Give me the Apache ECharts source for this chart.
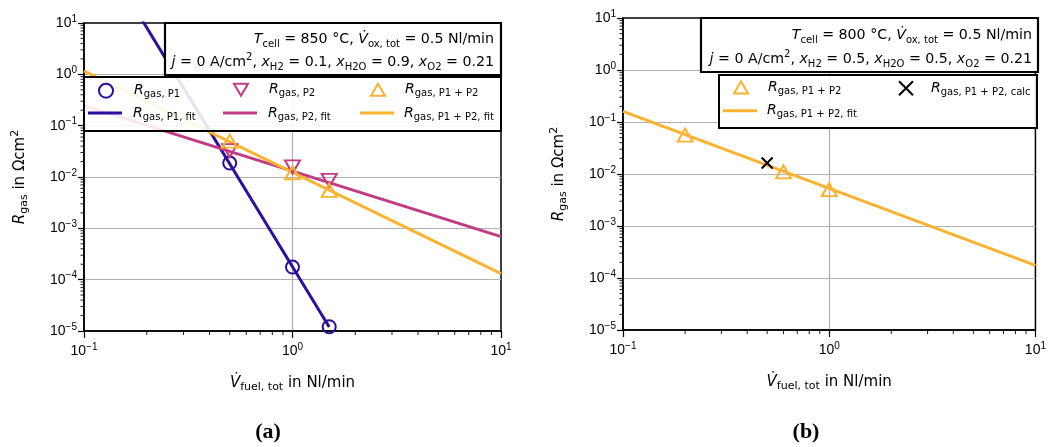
<!DOCTYPE html>
<html><head><meta charset="utf-8">
<script src="https://cdn.jsdelivr.net/npm/echarts@6/dist/echarts.min.js"></script>
<style>html,body{margin:0;padding:0;background:#fff}#c{width:1049px;height:447px}</style>
</head><body><div id="c"></div>
<script>
// ---- data ----
const xMin = 0.1, xMax = 10, yMin = 1e-5, yMax = 10;
const minorX = [0.2,0.3,0.4,0.5,0.6,0.7,0.8,0.9,2,3,4,5,6,7,8,9];
const minorY = [];
[1e-5,1e-4,1e-3,1e-2,1e-1,1].forEach(d => { for (let k = 2; k <= 9; k++) minorY.push(+(d*k).toPrecision(3)); });

// Plot (a)
const aX = [0.5, 1.0, 1.5];
const aP1 = [0.0187, 1.76e-4, 1.21e-5];
const aP2 = [0.0327, 0.0157, 0.0086];
const aP12 = [0.050, 0.0121, 0.0055];
const aP1fitX = [0.19, 1.5],  aP1fitY = [11.4, 1.2e-5];
const aP2fitX = [0.1, 10],    aP2fitY = [0.245, 6.9e-4];
const aP12fitX = [0.1, 10],   aP12fitY = [1.16, 1.31e-4];

// Plot (b)
const bX = [0.2, 0.6, 1.0];
const bP12 = [0.056, 0.0110, 0.0050];
const bCalcX = [0.5], bCalcY = [0.0163];
const bFitX = [0.1, 10], bFitY = [0.16, 1.75e-4];

const C1 = '#2c0f9c', C2 = '#c23b85', C3 = '#fbb32f';
const zip = (xs, ys) => xs.map((x, i) => [x, ys[i]]);

const chart = echarts.init(document.getElementById('c'));

function supLabel(v) {
  const e = Math.round(Math.log10(v));
  return '{b|10}{p|' + (e < 0 ? '\u2212' + (-e) : e) + '}';
}
const tickRich = {
  b: {fontFamily: 'Liberation Sans', fontSize: 14, color: '#000', lineHeight: 18},
  p: {fontFamily: 'Liberation Sans', fontSize: 10, color: '#000', lineHeight: 10, verticalAlign: 'top'}
};
const nameRich = {
  i: {fontFamily: 'DejaVu Sans', fontStyle: 'italic', fontSize: 15, color: '#000', lineHeight: 20},
  n: {fontFamily: 'DejaVu Sans', fontSize: 15, color: '#000', lineHeight: 20},
  s: {fontFamily: 'DejaVu Sans', fontSize: 11, color: '#000', lineHeight: 11, verticalAlign: 'bottom'},
  p: {fontFamily: 'DejaVu Sans', fontSize: 11, color: '#000', lineHeight: 11, verticalAlign: 'top'}
};

function xAxisCfg(gi) {
  return {
    type: 'log', logBase: 10, gridIndex: gi, min: xMin, max: xMax,
    axisLine: {lineStyle: {color: '#000', width: 1.5}},
    axisTick: {length: 7, lineStyle: {color: '#000', width: 1.2}},
    splitLine: {show: true, showMinLine: false, showMaxLine: false, lineStyle: {color: '#b0b0b0', width: 1.2}},
    axisLabel: {margin: 11, formatter: supLabel, rich: tickRich},
    name: '{i|V\u0307}{s|fuel, tot}{n| in Nl/min}', nameLocation: 'middle', nameGap: 42,
    nameTextStyle: {rich: nameRich}
  };
}
function yAxisCfg(gi) {
  return {
    type: 'log', logBase: 10, gridIndex: gi, min: yMin, max: yMax,
    axisLine: {lineStyle: {color: '#000', width: 1.5}},
    axisTick: {length: 6, lineStyle: {color: '#000', width: 1.2}},
    splitLine: {show: true, showMinLine: false, showMaxLine: false, lineStyle: {color: '#b0b0b0', width: 1.2}},
    axisLabel: {margin: 7, formatter: supLabel, rich: tickRich},
    name: '{i|R}{s|gas}{n| in \u03a9cm}{p|2}', nameLocation: 'middle', nameGap: 54, nameRotate: 90,
    nameTextStyle: {rich: nameRich}
  };
}

function minorSeries(gi, axis) {
  const data = axis === 'x' ? minorX.map(v => [v, yMin]) : minorY.map(v => [xMin, v]);
  return {
    type: 'custom', xAxisIndex: gi, yAxisIndex: gi, silent: true, clip: false, z: 6,
    data: data,
    renderItem: function (params, api) {
      const p = api.coord([api.value(0), api.value(1)]);
      const shape = axis === 'x' ? {x1: p[0], y1: p[1], x2: p[0], y2: p[1] + 4}
                                 : {x1: p[0] - 3.5, y1: p[1], x2: p[0], y2: p[1]};
      return {type: 'line', shape: shape, style: {stroke: '#000', lineWidth: 0.9}};
    }
  };
}

const triUp = 'path://M5,0 L10,8.66 L0,8.66 Z';
const triDown = 'path://M0,0 L10,0 L5,8.66 Z';
const cross = 'path://M0,0 L10,10 M10,0 L0,10';
const lineIcon = 'path://M0,0 L34,0 L34,3 L0,3 Z';

function scatter(name, gi, data, symbol, size, color) {
  return {
    name: name, type: 'scatter', xAxisIndex: gi, yAxisIndex: gi, data: data,
    symbol: symbol, symbolSize: size, z: 3,
    itemStyle: {color: 'rgba(0,0,0,0)', borderColor: color, borderWidth: 2, opacity: 1}
  };
}
function fitLine(name, gi, data, color) {
  return {
    name: name, type: 'line', xAxisIndex: gi, yAxisIndex: gi, data: data,
    showSymbol: false, symbol: 'none', clip: true, z: 2,
    lineStyle: {color: color, width: 3}, itemStyle: {color: color}
  };
}

const labelMap = {
  aP1: 'gas, P1', aP1fit: 'gas, P1, fit', aP2: 'gas, P2', aP2fit: 'gas, P2, fit',
  aP12: 'gas, P1 + P2', aP12fit: 'gas, P1 + P2, fit',
  bP12: 'gas, P1 + P2', bCalc: 'gas, P1 + P2, calc', bFit: 'gas, P1 + P2, fit'
};
// one legend component per entry, so columns line up like the reference
function legendItem(name, icon, color, marker, cx, cy, textX) {
  const w = marker ? 14 : 34;
  const spacer = textX - (cx + w / 2 + 5);
  return {
    left: cx - w / 2, top: cy - 9, orient: 'horizontal', padding: 0,
    itemWidth: w, itemHeight: 14, z: 10, selectedMode: false,
    data: [{
      name: name, icon: icon,
      itemStyle: marker ? {color: 'rgba(0,0,0,0)', borderColor: color, borderWidth: 2}
                        : {color: color, borderWidth: 0}
    }],
    formatter: n => '{sp|}{i|R}{s|' + labelMap[n] + '}',
    textStyle: {rich: {
      sp: {width: spacer, height: 1, lineHeight: 18},
      i: {fontFamily: 'DejaVu Sans', fontStyle: 'italic', fontSize: 14, color: '#000', lineHeight: 18},
      s: {fontFamily: 'DejaVu Sans', fontSize: 10, color: '#000', lineHeight: 11, verticalAlign: 'bottom'}
    }}
  };
}

const boxRich = {
  i: {fontFamily: 'DejaVu Sans', fontStyle: 'italic', fontSize: 14.2, color: '#000', lineHeight: 20},
  n: {fontFamily: 'DejaVu Sans', fontSize: 14.2, color: '#000', lineHeight: 20},
  s: {fontFamily: 'DejaVu Sans', fontSize: 10, color: '#000', lineHeight: 11, verticalAlign: 'bottom'},
  p: {fontFamily: 'DejaVu Sans', fontSize: 10, color: '#000', lineHeight: 11, verticalAlign: 'top'}
};
function infoBox(x1, y1, x2, y2, textX, l1y, l2y, line1, line2) {
  return [
    {type: 'rect', z: 8, shape: {x: x1, y: y1, width: x2 - x1, height: y2 - y1},
     style: {fill: '#fff', stroke: '#000', lineWidth: 2.2}},
    {type: 'text', z: 9, x: textX, y: l1y, style: {text: line1, rich: boxRich, align: 'right', verticalAlign: 'middle'}},
    {type: 'text', z: 9, x: textX, y: l2y, style: {text: line2, rich: boxRich, align: 'right', verticalAlign: 'middle'}}
  ];
}

const option = {
  backgroundColor: '#fff',
  animation: false,
  grid: [
    {left: 84, right: 548, top: 23, bottom: 116, show: true, borderColor: '#000', borderWidth: 1.5, backgroundColor: 'transparent'},
    {left: 623, right: 10, top: 18, bottom: 117, show: true, borderColor: '#000', borderWidth: 1.5, backgroundColor: 'transparent'}
  ],
  xAxis: [xAxisCfg(0), xAxisCfg(1)],
  yAxis: [yAxisCfg(0), yAxisCfg(1)],
  legend: [
    legendItem('aP1', 'circle', C1, true, 105, 91.7, 133),
    legendItem('aP2', triDown, C2, true, 240, 91.7, 268),
    legendItem('aP12', triUp, C3, true, 377, 91.7, 404),
    legendItem('aP1fit', lineIcon, C1, false, 105, 115, 133),
    legendItem('aP2fit', lineIcon, C2, false, 240, 115, 268),
    legendItem('aP12fit', lineIcon, C3, false, 377, 115, 404),
    legendItem('bP12', triUp, C3, true, 740, 89.3, 767),
    legendItem('bCalc', cross, '#000', true, 905, 89.3, 930),
    legendItem('bFit', lineIcon, C3, false, 740, 112.7, 767)
  ],
  graphic: [
    {type: 'rect', z: 7, shape: {x: 84, y: 77, width: 417, height: 54},
     style: {fill: 'rgba(255,255,255,0.88)', stroke: '#000', lineWidth: 2}},
    {type: 'rect', z: 7, shape: {x: 719, y: 75, width: 318, height: 53},
     style: {fill: 'rgba(255,255,255,0.88)', stroke: '#000', lineWidth: 2}},
    ...infoBox(165, 23, 501, 75, 494, 39, 62,
      '{i|T}{s|cell}{n| = 850 \u00b0C, }{i|V\u0307}{s|ox, tot}{n| = 0.5 Nl/min}',
      '{i|j}{n| = 0 A/cm}{p|2}{n|, }{i|x}{s|H2}{n| = 0.1, }{i|x}{s|H2O}{n| = 0.9, }{i|x}{s|O2}{n| = 0.21}'),
    ...infoBox(701, 18, 1038, 72, 1032, 35, 59,
      '{i|T}{s|cell}{n| = 800 \u00b0C, }{i|V\u0307}{s|ox, tot}{n| = 0.5 Nl/min}',
      '{i|j}{n| = 0 A/cm}{p|2}{n|, }{i|x}{s|H2}{n| = 0.5, }{i|x}{s|H2O}{n| = 0.5, }{i|x}{s|O2}{n| = 0.21}'),
    {type: 'text', x: 268, y: 432, style: {text: '(a)', font: 'bold 22px "Liberation Serif"', fill: '#000', align: 'center', verticalAlign: 'middle'}},
    {type: 'text', x: 806, y: 432, style: {text: '(b)', font: 'bold 22px "Liberation Serif"', fill: '#000', align: 'center', verticalAlign: 'middle'}}
  ],
  series: [
    fitLine('aP1fit', 0, zip(aP1fitX, aP1fitY), C1),
    fitLine('aP2fit', 0, zip(aP2fitX, aP2fitY), C2),
    fitLine('aP12fit', 0, zip(aP12fitX, aP12fitY), C3),
    scatter('aP1', 0, zip(aX, aP1), 'circle', 13, C1),
    scatter('aP2', 0, zip(aX, aP2), triDown, [15, 13], C2),
    scatter('aP12', 0, zip(aX, aP12), triUp, [15, 13], C3),
    fitLine('bFit', 1, zip(bFitX, bFitY), C3),
    scatter('bP12', 1, zip(bX, bP12), triUp, [15, 13], C3),
    scatter('bCalc', 1, zip(bCalcX, bCalcY), cross, 11, '#000'),
    minorSeries(0, 'x'), minorSeries(0, 'y'), minorSeries(1, 'x'), minorSeries(1, 'y')
  ]
};
chart.setOption(option);
</script></body></html>
